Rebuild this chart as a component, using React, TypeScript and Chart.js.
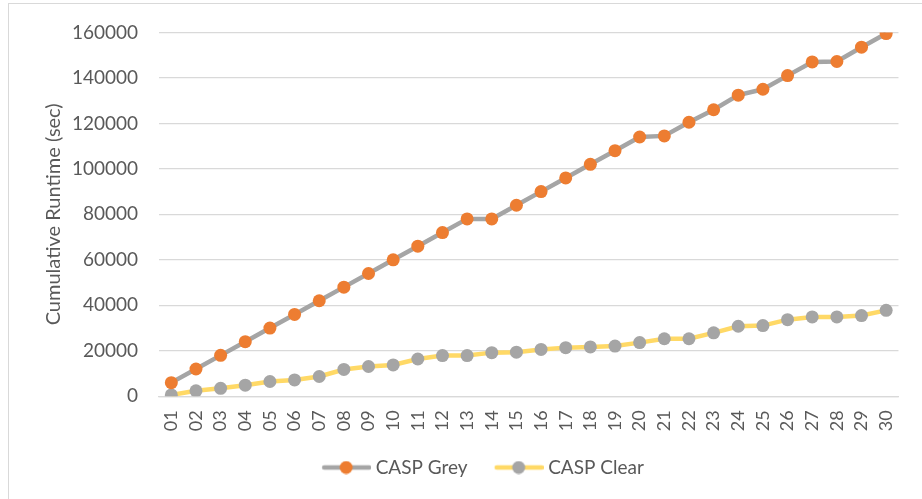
import React, { useEffect, useRef } from 'react';
import { Chart, registerables } from 'chart.js';

Chart.register(...registerables);

const categories = ['01','02','03','04','05','06','07','08','09','10','11','12','13','14','15','16','17','18','19','20','21','22','23','24','25','26','27','28','29','30'];

const caspGrey = [6000, 12000, 18000, 24000, 30000, 36000, 42000, 48000, 54000, 60000, 66000, 72000, 78000, 78000, 84000, 90000, 96000, 102000, 108000, 114000, 114500, 120500, 126000, 132400, 135000, 141000, 147000, 147200, 153500, 159500];

const caspClear = [600, 2400, 3500, 4900, 6500, 7200, 8700, 11800, 13100, 13800, 16400, 17900, 17900, 19200, 19400, 20600, 21400, 21700, 22100, 23600, 25300, 25300, 27900, 30800, 31100, 33700, 34900, 34900, 35500, 37800];

const yTickValues = [0, 20000, 40000, 60000, 80000, 100000, 120000, 140000, 160000];

const seriesNames = ['CASP Grey', 'CASP Clear'];
const yTitle = 'Cumulative Runtime (sec)';

const FONT = 'Lato, Carlito, Calibri, "Noto Sans", sans-serif';
const TEXT = '#595959';
const GRID = '#d9d9d9';

function legendSymbol(lineColor: string, markerColor: string) {
  const c = document.createElement('canvas');
  c.width = 71;
  c.height = 14;
  const g = c.getContext('2d')!;
  g.strokeStyle = lineColor;
  g.lineWidth = 4.5;
  g.lineCap = 'round';
  g.beginPath();
  g.moveTo(24, 7);
  g.lineTo(69, 7);
  g.stroke();
  g.fillStyle = markerColor;
  g.beginPath();
  g.arc(46, 7, 6.5, 0, Math.PI * 2);
  g.fill();
  return c;
}

export default function App() {
  const ref = useRef<HTMLCanvasElement | null>(null);

  useEffect(() => {
    document.body.style.margin = '0';
    document.body.style.overflow = 'hidden';
    const symbols = [legendSymbol('#a5a5a5', '#ed7d31'), legendSymbol('#ffd966', '#a5a5a5')];
    const chart = new Chart(ref.current!, {
      type: 'line',
      data: {
        labels: categories,
        datasets: [
          {
            label: seriesNames[0],
            data: caspGrey,
            borderColor: '#a5a5a5',
            backgroundColor: '#ed7d31',
            pointBackgroundColor: '#ed7d31',
            pointBorderWidth: 0,
            pointRadius: 6.5,
            borderWidth: 4.5,
            tension: 0,
          },
          {
            label: seriesNames[1],
            data: caspClear,
            borderColor: '#ffd966',
            backgroundColor: '#a5a5a5',
            pointBackgroundColor: '#a5a5a5',
            pointBorderWidth: 0,
            pointRadius: 6.5,
            borderWidth: 4.5,
            tension: 0,
          },
        ],
      },
      options: {
        responsive: false,
        animation: false,
        layout: { padding: { left: 42, right: 15, top: 30.7, bottom: 12 } },
        plugins: {
          tooltip: { enabled: false },
          legend: {
            position: 'bottom',
            labels: {
              usePointStyle: true,
              pointStyleWidth: 61,
              padding: 10,
              color: TEXT,
              font: { family: FONT, size: 19 },
              generateLabels: (ch: any) =>
                Chart.defaults.plugins.legend.labels.generateLabels(ch)
                  .sort((a: any, b: any) => a.datasetIndex - b.datasetIndex)
                  .map((l: any) => ({
                    ...l,
                    pointStyle: symbols[l.datasetIndex],
                    fontColor: TEXT,
                  })),
            },
          },
        },
        scales: {
          x: {
            offset: true,
            grid: { display: false, drawTicks: false },
            border: { display: true, color: GRID, width: 1.3 },
            ticks: {
              color: TEXT,
              font: { family: FONT, size: 18 },
              minRotation: 90,
              maxRotation: 90,
              padding: 14,
              autoSkip: false,
            },
            afterFit: (s: any) => { s.height = 51.7; },
          },
          y: {
            min: 0,
            max: 160000,
            grid: { color: GRID, lineWidth: 1.3, drawTicks: false },
            border: { display: false },
            ticks: {
              color: TEXT,
              font: { family: FONT, size: 19 },
              padding: 21,
              callback: (v: any) => String(v),
            },
            afterBuildTicks: (s: any) => { s.ticks = yTickValues.map((v) => ({ value: v })); },
            afterFit: (s: any) => { s.width = 117; },
            title: {
              display: true,
              text: yTitle,
              color: TEXT,
              font: { family: FONT, size: 20, lineHeight: 1.2 },
              padding: 0,
            },
          },
        },
      },
    });
    return () => chart.destroy();
  }, []);

  return (
    <div style={{ position: 'fixed', left: 0, top: 0, width: 922, height: 499, overflow: 'hidden', background: '#fff' }}>
      <canvas ref={ref} width={922} height={499} style={{ position: 'absolute', left: 0, top: 0 }} />
      <div style={{ position: 'absolute', left: 8, top: 3, width: 940, height: 520, border: '1px solid #d9d9d9', pointerEvents: 'none' }} />
    </div>
  );
}
